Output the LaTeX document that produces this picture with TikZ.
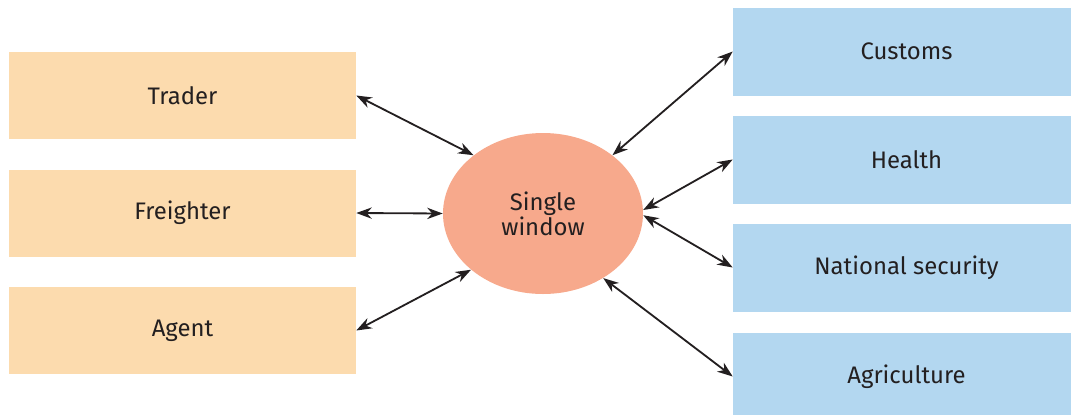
\documentclass[tikz,border=0pt]{standalone}
\usepackage{fontspec}
\setmainfont{Fira Sans}
\usetikzlibrary{arrows.meta,shapes.geometric}
\definecolor{partyfill}{HTML}{FCDBAE}
\definecolor{agencyfill}{HTML}{B3D7F0}
\definecolor{windowfill}{HTML}{F7A98C}
\definecolor{inkgray}{HTML}{231F20}
\begin{document}
\begin{tikzpicture}[
    partybox/.style={fill=partyfill, minimum width=8.675cm, minimum height=2.175cm, inner sep=0pt, text=inkgray, font=\fontsize{17}{20}\selectfont},
    agencybox/.style={fill=agencyfill, minimum width=8.675cm, minimum height=2.2cm, inner sep=0pt, text=inkgray, font=\fontsize{17}{20}\selectfont},
    link/.style={{Stealth[length=11pt,width=8pt,inset=3.5pt]}-{Stealth[length=11pt,width=8pt,inset=3.5pt]}, line width=1.3pt, draw=inkgray}
]
    \clip (0,0) rectangle (26.775,-10.35);

    % left side
    \node [partybox] (trader) at (4.5625,-2.3875) {Trader};
    \node [partybox] (freighter) at (4.5625,-5.325) {Freighter};
    \node [partybox] (agent) at (4.5625,-8.2625) {Agent};

    % centre
    \node [ellipse, fill=windowfill, minimum width=5cm, minimum height=4.025cm, inner sep=0pt, text=inkgray, align=center, font=\fontsize{17}{18}\selectfont] (sw) at (13.575,-5.3375) {Single\\window};

    % right side
    \node [agencybox] (customs) at (22.6625,-1.2875) {Customs};
    \node [agencybox] (health) at (22.6625,-3.9875) {Health};
    \node [agencybox] (security) at (22.6625,-6.6875) {National security};
    \node [agencybox] (agri) at (22.6625,-9.4125) {Agriculture};

    \draw [link] (trader.east) -- (sw.140);
    \draw [link] (freighter.east) -- (sw.180);
    \draw [link] (agent.east) -- (sw.218);
    \draw [link] (customs.west) -- (sw.40);
    \draw [link] (health.west) -- (sw.2);
    \draw [link] (security.west) -- (sw.-1);
    \draw [link] (agri.west) -- (sw.-47);
\end{tikzpicture}
\end{document}
